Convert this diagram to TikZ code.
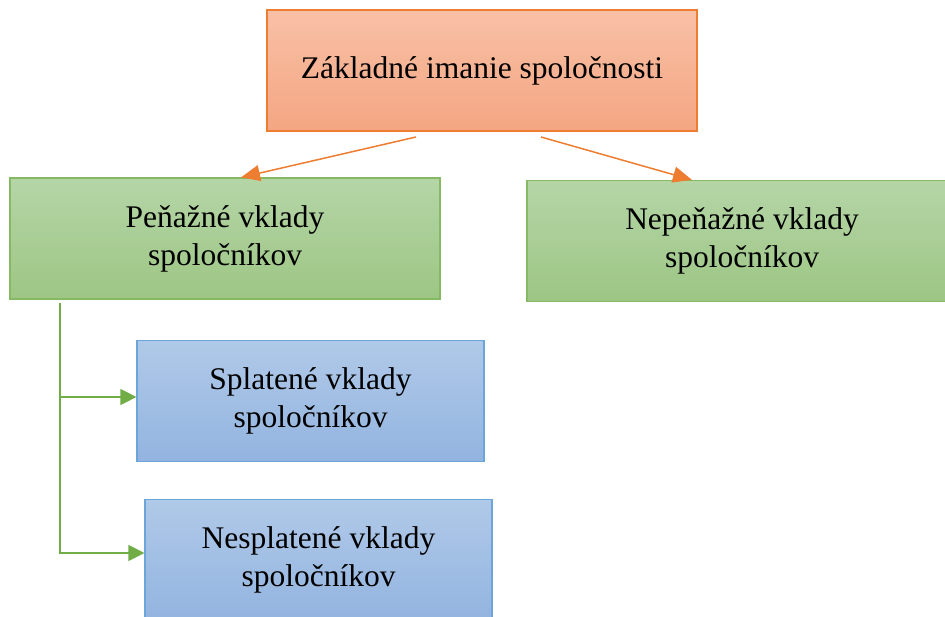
\documentclass[tikz,border=0pt]{standalone}
\usepackage{fontspec}
\setmainfont{Liberation Serif}
\usetikzlibrary{arrows.meta}
\definecolor{oranzova}{HTML}{ED7D31}
\definecolor{zelena}{HTML}{70AD47}
\definecolor{modra}{HTML}{5B9BD5}
\definecolor{oranzovaH}{HTML}{F8C0A6}
\definecolor{oranzovaD}{HTML}{F4A682}
\definecolor{zelenaH}{HTML}{B5D5A7}
\definecolor{zelenaD}{HTML}{9DC684}
\definecolor{modraH}{HTML}{B0C9E8}
\definecolor{modraD}{HTML}{93B4E0}

\tikzset{
  box/.style={rectangle, draw, line width=1.2pt, minimum width=430pt, minimum height=121pt,
    align=center, font=\fontsize{31.5}{38}\selectfont},
  orangebox/.style={box, draw=oranzova, top color=oranzovaH, bottom color=oranzovaD},
  greenbox/.style={box, draw=zelena!85, top color=zelenaH, bottom color=zelenaD},
  bluebox/.style={box, draw=modra!90, minimum width=347pt, top color=modraH, bottom color=modraD},
  orangearrow/.style={-{Triangle[length=19pt,width=16pt]}, draw=oranzova, line width=1.5pt},
  greenarrow/.style={-{Triangle[length=16pt,width=16pt]}, draw=zelena, line width=1.4pt}
}

\begin{document}
\begin{tikzpicture}[x=1pt, y=-1pt]
            \useasboundingbox (0,0) rectangle (945,617);
            \node[orangebox] (zaklad) at (482,70.5) {Základné imanie spoločnosti};
            \node[greenbox] (penazne) at (225,238.5) {Peňažné vklady\\spoločníkov};
            \node[greenbox] (nepenazne) at (742,241) {Nepeňažné vklady\\spoločníkov};
            \node[bluebox] (splatene) at (310.5,401) {Splatené vklady\\spoločníkov};
            \node[bluebox] (nesplatene) at (318.5,560) {Nesplatené vklady\\spoločníkov};

            \coordinate (odL) at (416,137);
            \coordinate (odP) at (541,137);
            \coordinate (kmen) at (60,303);

            \draw[orangearrow] (odL) -- ([xshift=16pt]penazne.north);
            \draw[orangearrow] (odP) -- ([xshift=-50pt]nepenazne.north);

            \draw[greenarrow] (kmen) |- ([yshift=4pt]splatene.west);
            \draw[greenarrow] (kmen) |- ([yshift=7pt]nesplatene.west);
        \end{tikzpicture}
\end{document}
